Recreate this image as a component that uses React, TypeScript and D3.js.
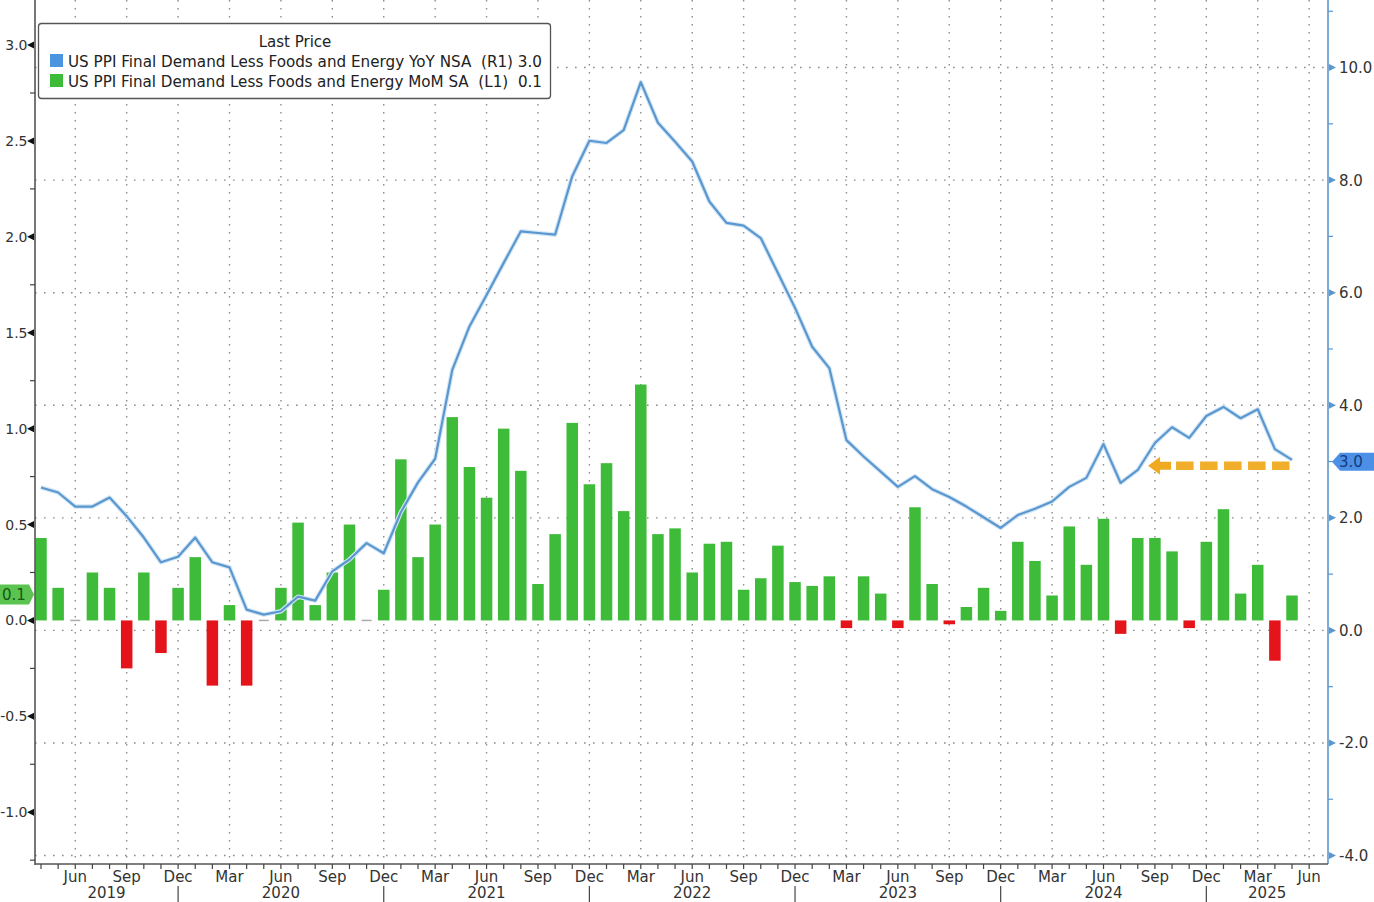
import * as d3 from "d3";

// Apr 2019 .. Jun 2025 (last month has no data, only the axis label)
const months = d3.timeMonth.range(new Date(2019, 3, 1), new Date(2025, 6, 1));

// US PPI final demand less foods & energy, MoM SA (left axis)
const momValues = [
  0.43, 0.17, 0.0, 0.25, 0.17, -0.25, 0.25, -0.17, 0.17,
  0.33, -0.34, 0.08, -0.34, 0.0, 0.17, 0.51, 0.08, 0.25, 0.5, 0.0, 0.16,
  0.84, 0.33, 0.5, 1.06, 0.8, 0.64, 1.0, 0.78, 0.19, 0.45, 1.03, 0.71,
  0.82, 0.57, 1.23, 0.45, 0.48, 0.25, 0.4, 0.41, 0.16, 0.22, 0.39, 0.2,
  0.18, 0.23, -0.04, 0.23, 0.14, -0.04, 0.59, 0.19, -0.02, 0.07, 0.17, 0.05,
  0.41, 0.31, 0.13, 0.49, 0.29, 0.53, -0.07, 0.43, 0.43, 0.36, -0.04, 0.41,
  0.58, 0.14, 0.29, -0.21, 0.13,
];

// US PPI final demand less foods & energy, YoY NSA (right axis)
const yoyValues = [
  2.54, 2.45, 2.2, 2.2, 2.36, 2.03, 1.65, 1.21, 1.31,
  1.65, 1.21, 1.12, 0.37, 0.28, 0.34, 0.6, 0.53, 1.05, 1.26, 1.55, 1.37,
  2.1, 2.63, 3.05, 4.63, 5.4, 5.96, 6.53, 7.09, 7.06, 7.03, 8.07, 8.7,
  8.66, 8.89, 9.74, 9.02, 8.68, 8.33, 7.62, 7.24, 7.19, 6.97, 6.35, 5.73,
  5.04, 4.66, 3.38, 3.09, 2.82, 2.55, 2.74, 2.51, 2.37, 2.2, 2.01, 1.82,
  2.05, 2.16, 2.29, 2.55, 2.71, 3.31, 2.62, 2.85, 3.33, 3.61, 3.42, 3.81,
  3.97, 3.77, 3.93, 3.22, 3.03,
];

const leftTicks = [-1.0, -0.5, 0.0, 0.5, 1.0, 1.5, 2.0, 2.5, 3.0];
const leftMinorTicks = [-1.25, -0.75, -0.25, 0.25, 0.75, 1.25, 1.75, 2.25, 2.75];
const rightTicks = [-4, -2, 0, 2, 4, 6, 8, 10];
const rightMinorTicks = [-3, -1, 1, 3, 5, 7, 9, 11];
const quarterMonths = ["Mar", "Jun", "Sep", "Dec"];

const legendTitle = "Last Price";
const legendYoY = "US PPI Final Demand Less Foods and Energy YoY NSA  (R1) 3.0";
const legendMoM = "US PPI Final Demand Less Foods and Energy MoM SA  (L1)  0.1";
const lastMoMLabel = "0.1";
const lastYoYLabel = "3.0";

const W = 1374;
const H = 902;
const FONT = "'DejaVu Sans', Tahoma, sans-serif";

const GREEN = "#3dbb39";
const RED = "#e5141b";
const BLUE_LINE = "#5a97cf";
const GRID = "#8c8c8c";

export default function App() {
  const plotL = 35;
  const plotR = 1328;
  const plotB = 864;

  const x = d3.scaleLinear().domain([-0.35, 75.1]).range([plotL, plotR]);
  const yL = d3.scaleLinear().domain([-1.27, 3.235]).range([plotB, 0]);
  const yR = d3.scaleLinear().domain([-4.15, 11.2]).range([plotB, 0]);

  const barW = 11.5;
  const fmtMon = d3.timeFormat("%b");
  const quarterIdx = months
    .map((m, i) => ({ m, i }))
    .filter((d) => quarterMonths.includes(fmtMon(d.m)));
  const decIdx = quarterIdx.filter((d) => fmtMon(d.m) === "Dec");

  // year labels: centre of each year's visible span between Dec separators
  const years = d3.range(2019, 2026);
  const yearLabels = years.map((yr) => {
    const prevDec = decIdx.find((d) => d.m.getFullYear() === yr - 1);
    const thisDec = decIdx.find((d) => d.m.getFullYear() === yr);
    const a = prevDec ? x(prevDec.i) : plotL;
    const b = thisDec ? x(thisDec.i) : plotR;
    return { yr, cx: (a + b) / 2 };
  });

  const line = d3
    .line<number>()
    .x((_, i) => x(i))
    .y((d) => yR(d));

  const lastI = yoyValues.length - 1;
  const lastYoY = yoyValues[lastI];
  const lastMoM = momValues[momValues.length - 1];

  // orange dashed arrow annotation pointing at the last YoY print
  const arrY = yR(lastYoY) + 6;
  const arrX0 = x(64.6);
  const arrX1 = x(lastI - 0.15);

  const tagLy = yL(lastMoM) - 1;
  const tagRy = yR(lastYoY) + 2;

  return (
    <div style={{ position: "absolute", left: 0, top: 0, width: W, height: H, background: "#fff" }}>
      <svg width={W} height={H} style={{ display: "block" }} fontFamily={FONT}>
        <rect width={W} height={H} fill="#fff" />

        {/* horizontal dotted gridlines at right-axis ticks */}
        {rightTicks.map((t) => (
          <line
            key={`gh-${t}`}
            x1={plotL}
            x2={plotR}
            y1={yR(t)}
            y2={yR(t)}
            stroke={GRID}
            strokeWidth={1.4}
            strokeDasharray="1.6 7.4"
          />
        ))}
        {/* vertical dotted gridlines at quarter months */}
        {quarterIdx.map((d) => (
          <line
            key={`gv-${d.i}`}
            x1={x(d.i)}
            x2={x(d.i)}
            y1={0}
            y2={plotB}
            stroke={GRID}
            strokeWidth={1.4}
            strokeDasharray="1.6 6.4"
          />
        ))}

        {/* bars */}
        {momValues.map((v, i) =>
          v === 0 ? (
            <line
              key={`b-${i}`}
              x1={x(i) - 5}
              x2={x(i) + 5}
              y1={yL(0)}
              y2={yL(0)}
              stroke="#aaa"
              strokeWidth={1.5}
            />
          ) : (
            <rect
              key={`b-${i}`}
              x={x(i) - barW / 2}
              y={Math.min(yL(v), yL(0))}
              width={barW}
              height={Math.abs(yL(v) - yL(0))}
              fill={v >= 0 ? GREEN : RED}
            />
          ),
        )}

        {/* YoY line */}
        <path d={line(yoyValues) ?? ""} fill="none" stroke="#d3e6f6" strokeWidth={4.5} strokeLinejoin="round" />
        <path d={line(yoyValues) ?? ""} fill="none" stroke={BLUE_LINE} strokeWidth={2.2} strokeLinejoin="round" />

        {/* orange arrow annotation */}
        <line
          x1={arrX0 + 28}
          x2={arrX1}
          y1={arrY}
          y2={arrY}
          stroke="#f0aa1f"
          strokeWidth={8.5}
          strokeDasharray="17.5 6.5"
          opacity={0.95}
        />
        <path
          d={`M${arrX0},${arrY} L${arrX0 + 12},${arrY - 9} L${arrX0 + 12},${arrY - 4} L${arrX0 + 23},${arrY - 4} L${arrX0 + 23},${arrY + 4} L${arrX0 + 12},${arrY + 4} L${arrX0 + 12},${arrY + 9} Z`}
          fill="#f0aa1f"
        />

        {/* left axis */}
        <line x1={plotL} x2={plotL} y1={0} y2={plotB + 1} stroke="#555" strokeWidth={1.6} />
        {leftMinorTicks.map((t) => (
          <line key={`lm-${t}`} x1={plotL - 5} x2={plotL} y1={yL(t)} y2={yL(t)} stroke="#444" strokeWidth={1.2} />
        ))}
        {leftTicks.map((t) => (
          <g key={`lt-${t}`}>
            <path d={`M${plotL - 1},${yL(t) - 3.5} L${plotL - 1},${yL(t) + 3.5} L${plotL - 8},${yL(t)} Z`} fill="#111" />
            <text x={27.5} y={yL(t)} dy="0.36em" textAnchor="end" fontSize={14} fill="#333">
              {t.toFixed(1)}
            </text>
          </g>
        ))}

        {/* right axis */}
        <line x1={plotR} x2={plotR} y1={0} y2={plotB} stroke={BLUE_LINE} strokeWidth={1.6} />
        {rightMinorTicks.map((t) => (
          <line key={`rm-${t}`} x1={plotR} x2={plotR + 5} y1={yR(t)} y2={yR(t)} stroke={BLUE_LINE} strokeWidth={1.2} />
        ))}
        {rightTicks.map((t) => (
          <g key={`rt-${t}`}>
            <path d={`M${plotR + 1},${yR(t) - 3.5} L${plotR + 1},${yR(t) + 3.5} L${plotR + 8},${yR(t)} Z`} fill={BLUE_LINE} />
            <text x={1339} y={yR(t)} dy="0.36em" textAnchor="start" fontSize={15} fill="#333">
              {t.toFixed(1)}
            </text>
          </g>
        ))}

        {/* last value tags */}
        <path
          d={`M0,${tagLy - 10} L29,${tagLy - 10} L34,${tagLy} L29,${tagLy + 10} L0,${tagLy + 10} Z`}
          fill="#5bc34f"
        />
        <text x={2} y={tagLy} dy="0.36em" fontSize={15} fill="#145a14">
          {lastMoMLabel}
        </text>
        <path
          d={`M${plotR + 4},${tagRy} L${plotR + 12},${tagRy - 9} L${W},${tagRy - 9} L${W},${tagRy + 9} L${plotR + 12},${tagRy + 9} Z`}
          fill="#4b90e6"
        />
        <text x={1339} y={tagRy} dy="0.36em" fontSize={15} fill="#143a80">
          {lastYoYLabel}
        </text>

        {/* bottom axis */}
        <line x1={plotL} x2={plotR} y1={plotB} y2={plotB} stroke="#555" strokeWidth={1.6} />
        {months.map((m, i) => (
          <line key={`xt-${i}`} x1={x(i)} x2={x(i)} y1={plotB} y2={plotB + 5} stroke="#444" strokeWidth={1.2} />
        ))}
        {quarterIdx.map((d) => (
          <text key={`xl-${d.i}`} x={x(d.i)} y={877} dy="0.36em" textAnchor="middle" fontSize={15} fill="#333">
            {fmtMon(d.m)}
          </text>
        ))}
        {decIdx.map((d) => (
          <line key={`ys-${d.i}`} x1={x(d.i)} x2={x(d.i)} y1={886} y2={H} stroke="#444" strokeWidth={1.2} />
        ))}
        {yearLabels.map((d) => (
          <text key={`yl-${d.yr}`} x={d.cx} y={893} dy="0.36em" textAnchor="middle" fontSize={15} fill="#333">
            {d.yr}
          </text>
        ))}

        {/* legend */}
        <rect x={38.5} y={23.5} width={512} height={75} rx={3} fill="#fff" stroke="#555" strokeWidth={1.3} />
        <text x={295} y={42} dy="0.36em" textAnchor="middle" fontSize={15} fill="#222">
          {legendTitle}
        </text>
        <rect x={50} y={54} width={13} height={13} fill="#4a94e0" />
        <text
          x={68}
          y={61}
          dy="0.36em"
          fontSize={15.5}
          fill="#222"
          textLength={474}
          lengthAdjust="spacingAndGlyphs"
          style={{ whiteSpace: "pre" }}
        >
          {legendYoY}
        </text>
        <rect x={50} y={74} width={13} height={13} fill={GREEN} />
        <text
          x={68}
          y={81}
          dy="0.36em"
          fontSize={15.5}
          fill="#222"
          textLength={474}
          lengthAdjust="spacingAndGlyphs"
          style={{ whiteSpace: "pre" }}
        >
          {legendMoM}
        </text>
      </svg>
    </div>
  );
}
